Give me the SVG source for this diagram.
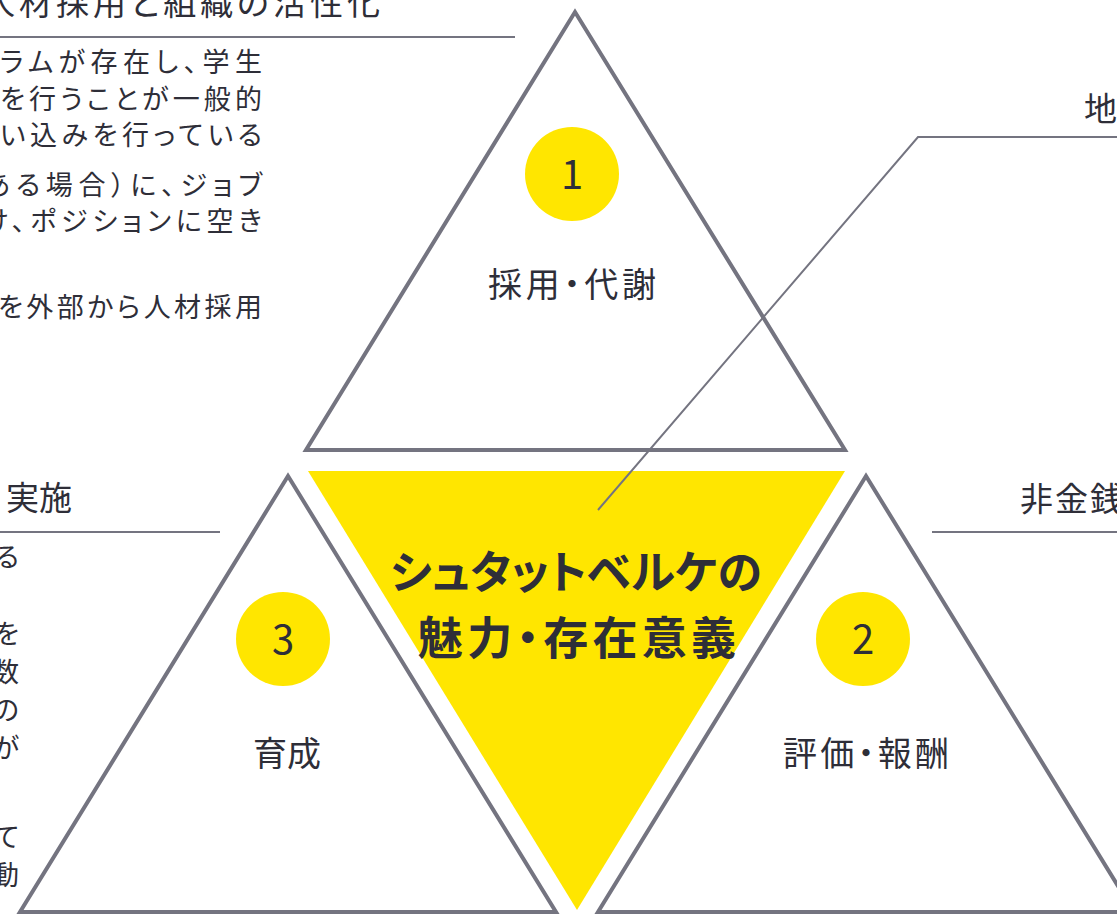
<svg xmlns="http://www.w3.org/2000/svg" width="1117" height="914" viewBox="0 0 1117 914">
<style>
text{font-family:"Noto Sans CJK JP","Noto Sans",sans-serif;fill:#2e2e38;font-feature-settings:"palt";font-weight:400}
.tri{fill:none;stroke:#747480;stroke-width:4;stroke-linejoin:miter}
.rule{stroke:#747480;stroke-width:2;fill:none}
.num{fill:#ffe600}
.n{font-size:40px;text-anchor:middle}
.lbl{font-size:34px;text-anchor:middle}
.hd{font-size:33px}
.body{font-size:27px}
.core{font-size:45px;font-weight:bold;text-anchor:middle}
</style>
<rect width="1117" height="914" fill="#ffffff"/>
<g id="core">
<polygon points="308,471 845,471 577,910" fill="#ffe600"/>
<text class="core" x="576" y="589" textLength="372" lengthAdjust="spacing">シュタットベルケの</text>
<text class="core" x="577" y="655" textLength="318" lengthAdjust="spacing">魅力・存在意義</text>
</g>
<g id="node1">
<polygon class="tri" points="575,12 845,450 306,450"/>
<circle class="num" cx="572" cy="174" r="47"/>
<text class="n" x="572" y="189">1</text>
<text class="lbl" x="572" y="297" textLength="168" lengthAdjust="spacing">採用・代謝</text>
</g>
<g id="node3">
<polygon class="tri" points="288,476 556,912 20,912"/>
<circle class="num" cx="283" cy="639" r="47"/>
<text class="n" x="283" y="654">3</text>
<text class="lbl" x="287" y="766">育成</text>
</g>
<g id="node2">
<polygon class="tri" points="866,476 1134,912 598,912"/>
<circle class="num" cx="863" cy="639" r="47"/>
<text class="n" x="863" y="654">2</text>
<text class="lbl" x="866" y="766" textLength="166" lengthAdjust="spacing">評価・報酬</text>
</g>
<g id="panel-top-left">
<text class="hd" x="-18" y="15" textLength="398" lengthAdjust="spacing">人材採用と組織の活性化</text>
<line class="rule" x1="0" y1="37" x2="515" y2="37"/>
<text class="body" x="0" y="72" textLength="262" lengthAdjust="spacing">ラムが存在し、学生</text>
<text class="body" x="0" y="109" textLength="262" lengthAdjust="spacing">を行うことが一般的</text>
<text class="body" x="0" y="145" textLength="262" lengthAdjust="spacing">い込みを行っている</text>
<text class="body" x="-16" y="195" textLength="278" lengthAdjust="spacing">ある場合）に、ジョブ</text>
<text class="body" x="-18" y="231" textLength="280" lengthAdjust="spacing">け、ポジションに空き</text>
<text class="body" x="-2" y="317" textLength="264" lengthAdjust="spacing">を外部から人材採用</text>
</g>
<g id="panel-bottom-left">
<text class="hd" x="72" y="510" text-anchor="end">実施</text>
<line class="rule" x1="0" y1="532" x2="220" y2="532"/>
<text class="body" x="19" y="567" text-anchor="end">る</text>
<text class="body" x="19" y="644" text-anchor="end">を</text>
<text class="body" x="19" y="682" text-anchor="end">数</text>
<text class="body" x="19" y="720" text-anchor="end">の</text>
<text class="body" x="19" y="758" text-anchor="end">が</text>
<text class="body" x="19" y="847" text-anchor="end">て</text>
<text class="body" x="19" y="885" text-anchor="end">動</text>
</g>
<g id="panel-top-right">
<text class="hd" x="1084" y="121">地</text>
</g>
<g id="panel-bottom-right">
<text class="hd" x="1020" y="511" letter-spacing="2">非金銭</text>
<line class="rule" x1="932" y1="532" x2="1117" y2="532"/>
</g>
<g id="connectors">
<polyline class="rule" points="598,510 918,137 1117,137"/>
</g>
</svg>
